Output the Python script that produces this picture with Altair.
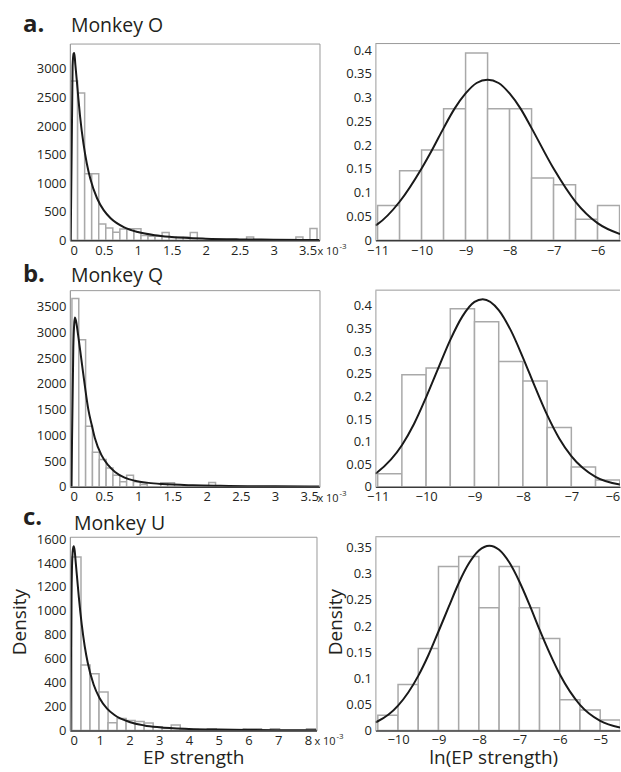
import altair as alt
import pandas as pd

FONT = "Open Sans"
TEXT = "#231f20"
BAR_STROKE = "#a9a9a9"
CURVE = "#1a1a1a"
FRAME = "#9a9a9a"
AXIS_DARK = "#3a3a3a"

# ---------------- Monkey O ----------------
O_BIN_START = 0.01          # x 1e-3
O_BIN_WIDTH = 0.1037
O_DENSITY = [2790, 2580, 1165, 1165, 285, 215, 140, 195, 200, 200, 85, 70, 70, 134,
             47, 58, 58, 134, 0, 0, 0, 0, 0, 0, 0, 58, 0, 0, 0, 0, 0, 0, 58, 0, 205]
O_CURVE_X = [0.012, 0.04, 0.055, 0.065, 0.08, 0.1, 0.125, 0.15, 0.2, 0.25, 0.3, 0.4, 0.5,
             0.6, 0.8, 1.0, 1.25, 1.5, 2.0, 2.5, 3.0, 3.5, 3.676]
O_CURVE_Y = [0, 3050, 3270, 3280, 3080, 2820, 2480, 2170, 1690, 1340, 1080, 735, 522,
             385, 226, 144, 88, 58, 28, 15, 9, 6, 5]
O_LN_START = -11.0
O_LN_WIDTH = 0.5
O_LN_DENSITY = [0.073, 0.146, 0.190, 0.277, 0.394, 0.277, 0.277, 0.131, 0.117, 0.044, 0.073]
O_LN_CURVE_X = [-11.05, -11, -10.5, -10, -9.75, -9.5, -9.25, -9, -8.75, -8.5, -8.25, -8,
                -7.75, -7.5, -7, -6.5, -6, -5.49]
O_LN_CURVE_Y = [0.031, 0.034, 0.081, 0.151, 0.192, 0.236, 0.277, 0.309, 0.331, 0.338, 0.331,
                0.309, 0.277, 0.236, 0.151, 0.081, 0.036, 0.013]

# ---------------- Monkey Q ----------------
Q_BIN_START = 0.03
Q_BIN_WIDTH = 0.1
Q_DENSITY = [3660, 2855, 1175, 670, 530, 368, 226, 97, 226, 97, 45, 0, 0, 78, 78, 0, 0, 0,
             0, 0, 85, 0, 0, 0, 0, 0, 0, 0, 0, 0, 0, 0, 0, 0, 0, 0]
Q_CURVE_X = [0.022, 0.05, 0.065, 0.075, 0.09, 0.12, 0.17, 0.22, 0.27, 0.32, 0.365, 0.46, 0.56,
             0.66, 0.8, 0.95, 1.15, 1.35, 1.8, 2.2, 2.6, 3.0, 3.5, 3.65]
Q_CURVE_Y = [0, 2700, 3200, 3290, 3220, 2950, 2450, 1950, 1500, 1200, 950, 620, 420,
             290, 180, 118, 77, 54, 30, 20, 13, 9, 6, 5]
Q_LN_START = -11.0
Q_LN_WIDTH = 0.5
Q_LN_DENSITY = [0.029, 0.248, 0.263, 0.394, 0.365, 0.277, 0.234, 0.131, 0.044, 0.015]
Q_LN_CURVE_X = [-11.05, -11, -10.5, -10.25, -10, -9.75, -9.5, -9.25, -9, -8.83, -8.5, -8.25,
                -8, -7.75, -7.5, -7.25, -7, -6.5, -6]
Q_LN_CURVE_Y = [0.029, 0.033, 0.092, 0.139, 0.198, 0.262, 0.325, 0.377, 0.409, 0.415, 0.391,
                0.346, 0.286, 0.221, 0.159, 0.107, 0.068, 0.022, 0.005]

# ---------------- Monkey U ----------------
U_BIN_START = 0.07
U_BIN_WIDTH = 0.3033
U_DENSITY = [1450, 548, 474, 322, 64, 100, 84, 74, 62, 30, 20, 45, 10, 8, 5, 15, 0, 0, 0,
             15, 15, 0, 15, 0, 0, 0, 15]
U_CURVE_X = [0.02, 0.05, 0.07, 0.1, 0.13, 0.16, 0.2, 0.25, 0.3, 0.4, 0.5, 0.6, 0.8, 1.0,
             1.25, 1.5, 2.0, 2.5, 3.0, 4.0, 5.0, 6.0, 7.0, 8.0, 8.29]
U_CURVE_Y = [0, 1120, 1360, 1510, 1540, 1505, 1395, 1255, 1117, 882, 702, 566, 382, 270,
             183, 129, 71, 42, 27, 13, 7, 4, 2.5, 1.6, 1.4]
U_LN_START = -10.5
U_LN_WIDTH = 0.5
U_LN_DENSITY = [0.029, 0.088, 0.157, 0.314, 0.333, 0.235, 0.314, 0.235, 0.176, 0.059, 0.039, 0.020]
U_LN_CURVE_X = [-10.56, -10.5, -10, -9.5, -9.25, -9, -8.75, -8.5, -8.25, -8, -7.74, -7.5,
                -7.25, -7, -6.75, -6.5, -6.25, -6, -5.5, -5, -4.51]
U_LN_CURVE_Y = [0.0155, 0.0176, 0.0474, 0.1045, 0.144, 0.1895, 0.236, 0.282, 0.3196, 0.3447,
                0.354, 0.346, 0.322, 0.2853, 0.241, 0.193, 0.148, 0.1075, 0.0491, 0.0184, 0.0055]

LEFT_X_TICKS_35 = [0, 0.5, 1, 1.5, 2, 2.5, 3, 3.5]
LEFT_X_TICKS_8 = [0, 1, 2, 3, 4, 5, 6, 7, 8]


def hist_frame(start, width, dens):
    return pd.DataFrame({
        "x0": [start + i * width for i in range(len(dens))],
        "x1": [start + (i + 1) * width for i in range(len(dens))],
        "d": dens,
        "y0": [0] * len(dens),
    })


def text_layer(txt, x, y, size, weight="normal"):
    return alt.Chart(pd.DataFrame({"t": [txt]})).mark_text(
        align="left", baseline="alphabetic", font=FONT, fontSize=size,
        fontWeight=weight, color=TEXT
    ).encode(x=alt.value(x), y=alt.value(y), text="t:N")


def make_axes(xdom, ydom, xticks, yticks, yfmt, xtitle, ytitle, xt_kw, yt_kw, xflush=False):
    xaxis_kw = dict(values=xticks, format=".2~f", ticks=False, grid=False, domainColor=AXIS_DARK,
                    domainWidth=1.4, labelFont=FONT, labelFontSize=13, labelColor=TEXT,
                    labelPadding=4, zindex=1, titleFont=FONT, titleFontSize=19,
                    titleColor=TEXT, titleFontWeight="normal")
    if xflush:
        xaxis_kw["labelFlush"] = 1
    xaxis_kw.update(xt_kw)
    yaxis_kw = dict(values=yticks, format=yfmt, ticks=False, grid=False, domainColor=FRAME,
                    domainWidth=1, labelFont=FONT, labelFontSize=13, labelColor=TEXT,
                    labelPadding=4, zindex=1, titleFont=FONT, titleFontSize=19,
                    titleColor=TEXT, titleFontWeight="normal")
    yaxis_kw.update(yt_kw)
    xs = alt.Scale(domain=xdom, nice=False, zero=False)
    ys = alt.Scale(domain=ydom, nice=False, zero=False)
    return xs, ys, alt.Axis(title=xtitle, **xaxis_kw), alt.Axis(title=ytitle, **yaxis_kw)


def panel(hist, cx, cy, xdom, ydom, xticks, yticks, yfmt, w, h, extras,
          xtitle=None, ytitle=None, xt_kw=None, yt_kw=None, frame=True, xflush=False):
    xs, ys, xa, ya = make_axes(xdom, ydom, xticks, yticks, yfmt, xtitle, ytitle,
                               xt_kw or {}, yt_kw or {}, xflush=xflush)
    bars = alt.Chart(hist).mark_rect(fill="white", stroke=BAR_STROKE, strokeWidth=1.5,
                                     clip=True).encode(
        x=alt.X("x0:Q", scale=xs, axis=xa),
        x2="x1:Q",
        y=alt.Y("d:Q", scale=ys, axis=ya),
        y2="y0:Q",
    )
    curve = alt.Chart(pd.DataFrame({"cx": cx, "cy": cy})).mark_line(
        color=CURVE, strokeWidth=2, interpolate="monotone", clip=True
    ).encode(
        x=alt.X("cx:Q", scale=xs, axis=xa),
        y=alt.Y("cy:Q", scale=ys, axis=ya),
    )
    layers = [bars, curve]
    if not frame:
        top = alt.Chart(pd.DataFrame({"a": [0]})).mark_rule(color=FRAME, strokeWidth=1).encode(
            x=alt.value(0), x2=alt.value(w), y=alt.value(0))
        layers.append(top)
    layers += extras
    ch = alt.layer(*layers).properties(width=w, height=h)
    if frame:
        ch = ch.properties(view=alt.ViewBackground(stroke=FRAME, strokeWidth=1))
    else:
        ch = ch.properties(view=alt.ViewBackground(stroke=None))
    return ch


def exp_label(w, h):
    return [text_layer("x 10", w - 2, h + 15, 11), text_layer("-3", w + 20, h + 9, 8)]


# ---- Row a ----
a_left = panel(hist_frame(O_BIN_START, O_BIN_WIDTH, O_DENSITY), O_CURVE_X, O_CURVE_Y,
               [0, 3.676], [0, 3444], LEFT_X_TICKS_35, [0, 500, 1000, 1500, 2000, 2500, 3000],
               "d", 250, 197,
               [text_layer("a.", -47, -12, 24, "bold"), text_layer("Monkey O", 1, -12, 19.5)]
               + exp_label(250, 197))
a_right = panel(hist_frame(O_LN_START, O_LN_WIDTH, O_LN_DENSITY), O_LN_CURVE_X, O_LN_CURVE_Y,
                [-11.05, -5.49], [0, 0.414], [-11, -10, -9, -8, -7, -6],
                [0, 0.05, 0.1, 0.15, 0.2, 0.25, 0.3, 0.35, 0.4], ".2~f", 245, 197, [],
                frame=False)

# ---- Row b ----
b_left = panel(hist_frame(Q_BIN_START, Q_BIN_WIDTH, Q_DENSITY), Q_CURVE_X, Q_CURVE_Y,
               [0, 3.65], [0, 3820], LEFT_X_TICKS_35,
               [0, 500, 1000, 1500, 2000, 2500, 3000, 3500], "d", 250, 197,
               [text_layer("b.", -47, -8, 24, "bold"), text_layer("Monkey Q", 1, -8, 19.5)]
               + exp_label(250, 197))
b_right = panel(hist_frame(Q_LN_START, Q_LN_WIDTH, Q_LN_DENSITY), Q_LN_CURVE_X, Q_LN_CURVE_Y,
                [-11.047, -5.995], [0, 0.435], [-11, -10, -9, -8, -7, -6],
                [0, 0.05, 0.1, 0.15, 0.2, 0.25, 0.3, 0.35, 0.4], ".2~f", 245, 197, [],
                frame=False, xflush=True)

# ---- Row c ----
c_left = panel(hist_frame(U_BIN_START, U_BIN_WIDTH, U_DENSITY), U_CURVE_X, U_CURVE_Y,
               [0, 8.29], [0, 1620], LEFT_X_TICKS_8,
               [0, 200, 400, 600, 800, 1000, 1200, 1400, 1600], "d", 247, 194,
               [text_layer("c.", -47, -12, 24, "bold"), text_layer("Monkey U", 4, -7, 19.5)]
               + exp_label(247, 194),
               xtitle="EP strength", ytitle="Density",
               xt_kw=dict(titleBaseline="alphabetic", titleY=33),
               yt_kw=dict(titleAngle=270, titleBaseline="middle", titleAlign="center",
                          titleX=-50, titleY=85))
c_right = panel(hist_frame(U_LN_START, U_LN_WIDTH, U_LN_DENSITY), U_LN_CURVE_X, U_LN_CURVE_Y,
                [-10.56, -4.51], [0, 0.371], [-10, -9, -8, -7, -6, -5],
                [0, 0.05, 0.1, 0.15, 0.2, 0.25, 0.3, 0.35], ".2~f", 245, 194, [],
                xtitle="ln(EP strength)", ytitle="Density",
                xt_kw=dict(titleBaseline="alphabetic", titleY=33, titleX=118, labelPadding=3),
                yt_kw=dict(titleAngle=270, titleBaseline="middle", titleAlign="center",
                           titleX=-40, titleY=85),
                frame=False)

chart = alt.concat(
    a_left, a_right, b_left, b_right, c_left, c_right,
    columns=2, spacing={"row": 50, "column": 56}, bounds="flush",
).properties(
    padding={"left": 10, "top": 11, "right": 0, "bottom": 0},
    background="white",
).configure_view(stroke=None)

chart.save("out.html", embed_options={"renderer": "svg", "actions": False})
